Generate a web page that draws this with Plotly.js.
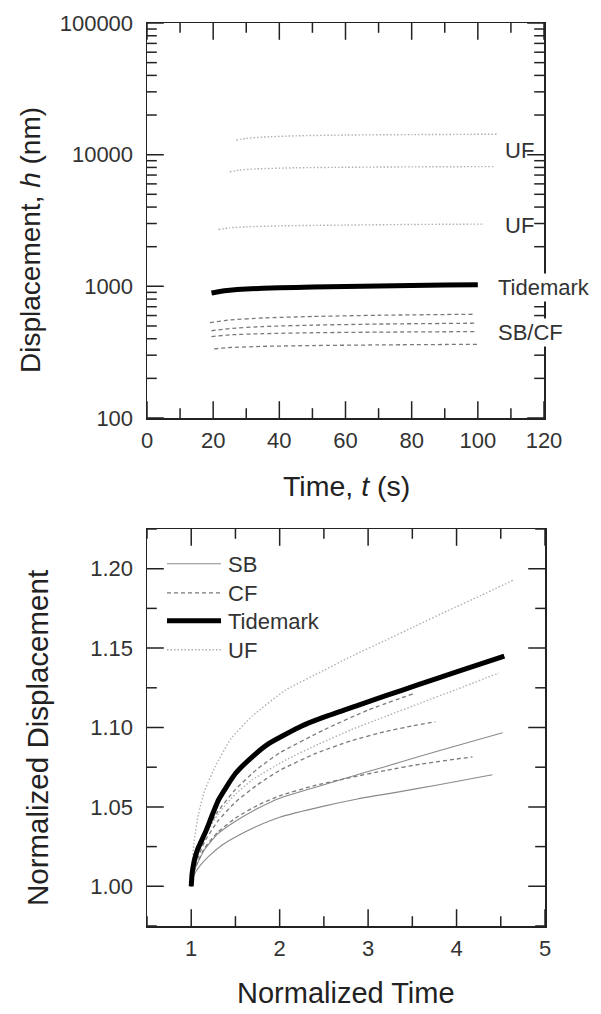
<!DOCTYPE html>
<html>
<head>
<meta charset="utf-8">
<script src="https://cdn.plot.ly/plotly-3.0.1.min.js"></script>
<style>html,body{margin:0;padding:0;background:#fff;}#chart{width:601px;height:1014px;}</style>
</head>
<body>
<div id="chart"></div>
<script>
// ---------- Top panel: displacement vs time (log) ----------
const ufTopT   = [27, 30, 35, 45, 60, 80, 106];
const ufTopH   = [12900, 13300, 13600, 13900, 14100, 14200, 14300];
const ufMidT   = [25, 28, 33, 45, 60, 80, 104.7];
const ufMidH   = [7400, 7650, 7800, 7950, 8020, 8080, 8120];
const ufLowT   = [21.6, 25, 30, 40, 60, 80, 102];
const ufLowH   = [2700, 2780, 2830, 2880, 2920, 2950, 2970];
const tideT    = [19.5, 22, 25, 30, 40, 50, 60, 70, 80, 90, 100];
const tideH    = [890, 915, 935, 955, 975, 988, 998, 1007, 1015, 1022, 1030];
const sbcf1T   = [19, 25, 35, 50, 70, 99];
const sbcf1H   = [530, 555, 575, 590, 603, 614];
const sbcf2T   = [19.5, 25, 35, 50, 70, 99.5];
const sbcf2H   = [460, 478, 495, 507, 517, 525];
const sbcf3T   = [19.5, 25, 35, 50, 70, 99.5];
const sbcf3H   = [415, 428, 437, 444, 449, 453];
const sbcf4T   = [20.3, 25, 35, 50, 70, 100.6];
const sbcf4H   = [335, 343, 350, 355, 359, 363];
const topXRange = [0, 120];
const topYRange = [100, 100000];
const topXTicks = [0, 20, 40, 60, 80, 100, 120];
const topXMinor = [10, 30, 50, 70, 90, 110];
const topYTicks = [100, 1000, 10000, 100000];
const topYTickText = ['100', '1000', '10000', '100000'];
const topYMinor = [200, 300, 400, 500, 600, 700, 800, 900,
                   2000, 3000, 4000, 5000, 6000, 7000, 8000, 9000,
                   20000, 30000, 40000, 50000, 60000, 70000, 80000, 90000];
const topLabels = ['UF', 'UF', 'Tidemark', 'SB/CF'];

// ---------- Bottom panel: normalized curves ----------
const nTideX = [1, 1.01, 1.03, 1.07, 1.16, 1.31, 1.5, 1.7, 1.88, 2.25, 2.5, 2.86, 3.2, 3.56, 4.0, 4.54];
const nTideY = [1.000, 1.008, 1.015, 1.023, 1.034, 1.0545, 1.071, 1.082, 1.090, 1.101, 1.1065, 1.1135, 1.120, 1.1268, 1.135, 1.145];
const nUf1X = [1, 1.01, 1.03, 1.08, 1.15, 1.272, 1.45, 1.687, 2.065, 2.5, 2.8, 3.2, 3.52, 3.9, 4.27, 4.65];
const nUf1Y = [1.000, 1.013, 1.027, 1.045, 1.060, 1.0754, 1.093, 1.107, 1.1235, 1.136, 1.1445, 1.155, 1.1635, 1.1735, 1.183, 1.193];
const nUf2X = [1, 1.01, 1.05, 1.15, 1.31, 1.5, 1.69, 2.07, 2.44, 2.8, 3.2, 3.6, 4.0, 4.48];
const nUf2Y = [1.000, 1.006, 1.015, 1.031, 1.046, 1.058, 1.067, 1.0796, 1.0895, 1.0984, 1.107, 1.1156, 1.124, 1.1344];
const nCf1X = [1, 1.01, 1.05, 1.15, 1.3, 1.5, 1.75, 2.0, 2.5, 3.0, 3.52];
const nCf1Y = [1.000, 1.007, 1.017, 1.032, 1.047, 1.061, 1.074, 1.084, 1.0985, 1.111, 1.1215];
const nCf2X = [1, 1.01, 1.05, 1.15, 1.3, 1.5, 1.75, 2.0, 2.4, 2.8, 3.2, 3.5, 3.76];
const nCf2Y = [1.000, 1.006, 1.014, 1.028, 1.041, 1.053, 1.064, 1.073, 1.0835, 1.0915, 1.0975, 1.101, 1.1037];
const nCf3X = [1, 1.01, 1.05, 1.15, 1.3, 1.5, 1.75, 2.0, 2.4, 2.8, 3.2, 3.6, 4.18];
const nCf3Y = [1.000, 1.005, 1.012, 1.024, 1.034, 1.043, 1.051, 1.057, 1.0635, 1.0685, 1.073, 1.077, 1.0815];
const nSb1X = [1, 1.01, 1.05, 1.15, 1.3, 1.5, 1.75, 2.0, 2.5, 2.8, 3.2, 3.5, 4.0, 4.52];
const nSb1Y = [1.000, 1.005, 1.012, 1.023, 1.033, 1.041, 1.049, 1.0555, 1.064, 1.069, 1.0755, 1.0805, 1.0885, 1.0967];
const nSb2X = [1, 1.01, 1.05, 1.1, 1.2, 1.35, 1.5, 1.75, 2.0, 2.5, 2.88, 3.3, 3.8, 4.405];
const nSb2Y = [1.000, 1.004, 1.009, 1.013, 1.019, 1.026, 1.031, 1.038, 1.0435, 1.0505, 1.055, 1.059, 1.064, 1.0702];
const botXRange = [0.5, 5];
const botYRange = [0.975, 1.225];
const botXTicks = [1, 2, 3, 4, 5];
const botXMinor = [0.5, 1.5, 2.5, 3.5, 4.5];
const botYTicks = [1.00, 1.05, 1.10, 1.15, 1.20];
const botYTickText = ['1.00', '1.05', '1.10', '1.15', '1.20'];
const botYMinor = [0.975, 1.025, 1.075, 1.125, 1.175, 1.225];
const legendNames = ['SB', 'CF', 'Tidemark', 'UF'];

const FONT = 'Arial, "Liberation Sans", Helvetica, sans-serif';
const INK = '#222';

const sty = {
  SB:   {color: '#8a8a8a', width: 1.1, dash: 'solid'},
  CF:   {color: '#7a7a7a', width: 1.3, dash: '4px,3px'},
  Tide: {color: '#000000', width: 5,   dash: 'solid'},
  UF:   {color: '#b0b0b0', width: 1.4, dash: '1.5px,2px'}
};

function tr(x, y, xa, ya, s, name, show, legendId) {
  return {x: x, y: y, xaxis: xa, yaxis: ya, type: 'scatter', mode: 'lines',
          line: Object.assign({shape: 'spline', smoothing: 0.5}, s),
          name: name, showlegend: show, legend: legendId || 'legend',
          hoverinfo: 'skip'};
}

// Inside, mirrored tick marks: short line markers sitting on the frame edges,
// clipped to the plot area so only the inner half shows.
const MAJ = 24, MIN = 14;
function xTicks(xa, ya, vals, yEdges, size) {
  const xs = [], ys = [];
  yEdges.forEach(function (e) { vals.forEach(function (v) { xs.push(v); ys.push(e); }); });
  return {x: xs, y: ys, xaxis: xa, yaxis: ya, type: 'scatter', mode: 'markers', cliponaxis: true,
          showlegend: false, hoverinfo: 'skip',
          marker: {symbol: 'line-ns', size: size, color: INK, line: {width: 1.5, color: INK}}};
}
function yTicks(xa, ya, vals, xEdges, size) {
  const xs = [], ys = [];
  xEdges.forEach(function (e) { vals.forEach(function (v) { xs.push(e); ys.push(v); }); });
  return {x: xs, y: ys, xaxis: xa, yaxis: ya, type: 'scatter', mode: 'markers', cliponaxis: true,
          showlegend: false, hoverinfo: 'skip',
          marker: {symbol: 'line-ew', size: size, color: INK, line: {width: 1.5, color: INK}}};
}

const data = [
  tr(ufTopT, ufTopH, 'x', 'y', sty.UF, 'UF', false),
  tr(ufMidT, ufMidH, 'x', 'y', sty.UF, 'UF', false),
  tr(ufLowT, ufLowH, 'x', 'y', sty.UF, 'UF', false),
  tr(sbcf1T, sbcf1H, 'x', 'y', sty.CF, 'CF', false),
  tr(sbcf2T, sbcf2H, 'x', 'y', sty.CF, 'CF', false),
  tr(sbcf3T, sbcf3H, 'x', 'y', sty.CF, 'CF', false),
  tr(sbcf4T, sbcf4H, 'x', 'y', sty.CF, 'CF', false),
  tr(tideT, tideH, 'x', 'y', sty.Tide, 'Tidemark', false),

  tr(nSb1X, nSb1Y, 'x2', 'y2', sty.SB, legendNames[0], true, 'legend'),
  tr(nSb2X, nSb2Y, 'x2', 'y2', sty.SB, legendNames[0], false),
  tr(nCf1X, nCf1Y, 'x2', 'y2', sty.CF, legendNames[1], true, 'legend2'),
  tr(nCf2X, nCf2Y, 'x2', 'y2', sty.CF, legendNames[1], false),
  tr(nCf3X, nCf3Y, 'x2', 'y2', sty.CF, legendNames[1], false),
  tr(nUf1X, nUf1Y, 'x2', 'y2', sty.UF, legendNames[3], true, 'legend4'),
  tr(nUf2X, nUf2Y, 'x2', 'y2', sty.UF, legendNames[3], false),
  tr(nTideX, nTideY, 'x2', 'y2', sty.Tide, legendNames[2], true, 'legend3'),

  xTicks('x', 'y', topXTicks, topYRange, MAJ), xTicks('x', 'y', topXMinor, topYRange, MIN),
  yTicks('x', 'y', topYTicks, topXRange, MAJ), yTicks('x', 'y', topYMinor, topXRange, MIN),
  xTicks('x2', 'y2', botXTicks, botYRange, MAJ), xTicks('x2', 'y2', botXMinor, botYRange, MIN),
  yTicks('x2', 'y2', botYTicks, botXRange, MAJ), yTicks('x2', 'y2', botYMinor, botXRange, MIN)
];

const axBase = {
  showline: true, linecolor: INK, linewidth: 1.5, mirror: true,
  ticks: '', showgrid: false, zeroline: false, fixedrange: true,
  tickfont: {family: FONT, size: 22, color: '#333'},
  tickmode: 'array'
};

const W = 601, H = 1014;
const px = v => v / W, py = v => 1 - v / H;
const TOPX = [px(147), px(544)], TOPY = [py(418), py(23)];
const BOTX = [px(147), px(545)], BOTY = [py(926), py(529)];

const legFont = {family: FONT, size: 22, color: '#333'};
function leg(yc) {
  return {x: px(162), y: py(yc), xanchor: 'left', yanchor: 'middle', bgcolor: 'rgba(0,0,0,0)',
          font: legFont, itemwidth: 56, borderwidth: 0};
}

const layout = {
  width: W, height: H,
  margin: {l: 0, r: 0, t: 0, b: 0},
  paper_bgcolor: '#fff', plot_bgcolor: 'rgba(0,0,0,0)',
  font: {family: FONT, color: INK},
  showlegend: true,
  legend: leg(564), legend2: leg(593), legend3: leg(621), legend4: leg(650),
  xaxis: Object.assign({}, axBase, {domain: TOPX, anchor: 'y', range: topXRange, tickvals: topXTicks, ticklabelstandoff: 2}),
  yaxis: Object.assign({}, axBase, {domain: TOPY, anchor: 'x', type: 'log', range: topYRange.map(Math.log10),
                                    tickvals: topYTicks, ticktext: topYTickText, ticklabelstandoff: 8}),
  xaxis2: Object.assign({}, axBase, {domain: BOTX, anchor: 'y2', range: botXRange, tickvals: botXTicks, ticklabelstandoff: 2}),
  yaxis2: Object.assign({}, axBase, {domain: BOTY, anchor: 'x2', range: botYRange,
                                     tickvals: botYTicks, ticktext: botYTickText, ticklabelstandoff: 8}),
  annotations: [
    {text: topLabels[0], xref: 'paper', yref: 'paper', x: px(503), y: py(151), xanchor: 'left', yanchor: 'middle', showarrow: false, font: {family: FONT, size: 22, color: '#333'}},
    {text: topLabels[1], xref: 'paper', yref: 'paper', x: px(503), y: py(225), xanchor: 'left', yanchor: 'middle', showarrow: false, font: {family: FONT, size: 22, color: '#333'}},
    {text: topLabels[2], xref: 'paper', yref: 'paper', x: px(496), y: py(287), xanchor: 'left', yanchor: 'middle', showarrow: false, bgcolor: '#fff', font: {family: FONT, size: 22, color: '#333'}},
    {text: topLabels[3], xref: 'paper', yref: 'paper', x: px(496), y: py(332), xanchor: 'left', yanchor: 'middle', showarrow: false, bgcolor: '#fff', font: {family: FONT, size: 22, color: '#333'}},
    {text: 'Displacement, <i>h</i> (nm)', xref: 'paper', yref: 'paper', x: px(30), y: py(240), xanchor: 'center', yanchor: 'middle', textangle: -90, showarrow: false, font: {family: FONT, size: 28, color: INK}},
    {text: 'Time, <i>t</i> (s)', xref: 'paper', yref: 'paper', x: px(346), y: py(486), xanchor: 'center', yanchor: 'middle', showarrow: false, font: {family: FONT, size: 28.5, color: INK}},
    {text: 'Normalized Displacement', xref: 'paper', yref: 'paper', x: px(37), y: py(738), xanchor: 'center', yanchor: 'middle', textangle: -90, showarrow: false, font: {family: FONT, size: 29.5, color: INK}},
    {text: 'Normalized Time', xref: 'paper', yref: 'paper', x: px(346), y: py(993), xanchor: 'center', yanchor: 'middle', showarrow: false, font: {family: FONT, size: 29, color: INK}}
  ]
};

Plotly.newPlot('chart', data, layout, {displayModeBar: false, staticPlot: true}).then(function (gd) {
  // lengthen the legend key lines to match the reference key
  gd.querySelectorAll('.legendlines path').forEach(function (p) { p.setAttribute('d', 'M5,0h54'); });
});
</script>
</body>
</html>
